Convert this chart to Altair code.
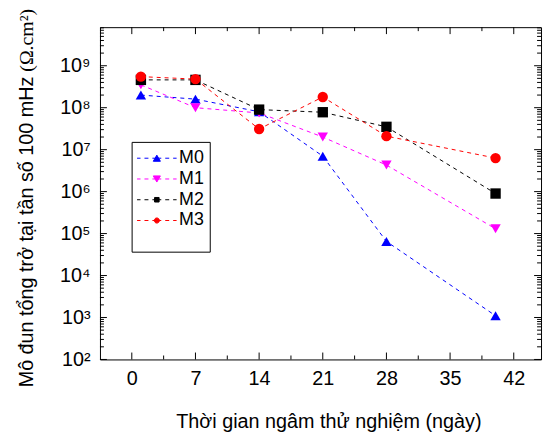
import altair as alt
import pandas as pd

# ---- data ----
days = [1, 7, 14, 21, 28, 40]
series_names = ["M0", "M1", "M2", "M3"]
m0 = [2.0e8, 1.6e8, 8.0e7, 7.0e6, 6.5e4, 1.1e3]
m1 = [3.5e8, 1.0e8, 7.5e7, 2.0e7, 4.3e6, 1.3e5]
m2 = [4.6e8, 4.6e8, 9.0e7, 7.8e7, 3.5e7, 9.0e5]
m3 = [5.5e8, 4.8e8, 3.1e7, 1.8e8, 2.1e7, 6.3e6]
colors = ["#0000FF", "#FF00FF", "#000000", "#FF0000"]
shapes = ["triangle-up", "triangle-down", "square", "circle"]
marker_sizes = [110, 110, 52, 66]
x_ticks = [0, 7, 14, 21, 28, 35, 42]
x_minor = [3.5, 10.5, 17.5, 24.5, 31.5, 38.5]
y_ticks = [1e2, 1e3, 1e4, 1e5, 1e6, 1e7, 1e8, 1e9]
x_domain = [-3.5, 45]
y_domain = [1e2, 8.3e9]
x_title = "Thời gian ngâm thử nghiệm (ngày)"
y_title_main = "Mô đun tổng trở tại tần số 100 mHz"
y_title_unit = "(Ω.cm²)"

W, H = 446, 336
FONT = "Liberation Sans"

values = [m0, m1, m2, m3]
rows = []
for name, vals in zip(series_names, values):
    for d, v in zip(days, vals):
        rows.append({"series": name, "day": d, "z": v})
df = pd.DataFrame(rows)

y_minor = [k * 10 ** e for e in range(2, 10) for k in range(2, 10) if k * 10 ** e <= y_domain[1]]

xs = alt.Scale(domain=x_domain, nice=False, zero=False)
ys = alt.Scale(type="log", domain=y_domain, nice=False)
cscale = alt.Scale(domain=series_names, range=colors)

sup = "['⁰','¹','²','³','⁴','⁵','⁶','⁷','⁸','⁹']"
x_axis = alt.Axis(
    values=x_ticks, ticks=False, domain=False, grid=False,
    labelFont=FONT, labelFontSize=20, labelColor="black",
    labelBaseline="alphabetic", labelPadding=25,
    title=x_title, titleFont=FONT, titleFontSize=20, titleFontWeight="normal",
    titleColor="black", titleX=231, titleY=69, titleBaseline="alphabetic",
    titleAlign="center", orient="bottom",
)
y_axis = alt.Axis(
    values=y_ticks, ticks=False, domain=False, grid=False,
    labelFont=FONT, labelFontSize=20, labelColor="black", labelPadding=10,
    labelBaseline="middle",
    labelExpr="'10' + " + sup + "[round(log(datum.value)/LN10)]",
    title=None, orient="left",
)

lines = alt.Chart(df).mark_line(strokeWidth=1, strokeDash=[4, 4]).encode(
    x=alt.X("day:Q", scale=xs, axis=x_axis),
    y=alt.Y("z:Q", scale=ys, axis=y_axis),
    color=alt.Color("series:N", scale=cscale, legend=None),
)

points = alt.Chart(df).mark_point(filled=True, opacity=1).encode(
    x=alt.X("day:Q", scale=xs, axis=None),
    y=alt.Y("z:Q", scale=ys, axis=None),
    color=alt.Color("series:N", scale=cscale, legend=None),
    shape=alt.Shape("series:N", scale=alt.Scale(domain=series_names, range=shapes), legend=None),
    size=alt.Size("series:O", scale=alt.Scale(domain=series_names, range=marker_sizes), legend=None),
)

# ---- legend symbols: dashed line with a small marker ----
U = 11.0      # px per symbol unit (sqrt(484)/2)
SHIFT = 9.0   # move the drawing right of the nominal symbol centre


def px(x, y=0.0):
    return f"{(x + SHIFT) / U:.3f},{y / U:.3f}"


dash = "".join(f"M{px(a)}L{px(b)}" for a, b in
               [(-20, -16.5), (-12.5, -8.5), (-4.5, 4.5), (8.5, 12.5), (16.5, 20)])
tw, th, sq, cr = 3.6, 3.1, 2.3, 2.6
marker_paths = [
    f"M{px(0, -th)}L{px(tw, th)}L{px(-tw, th)}Z",
    f"M{px(0, th)}L{px(tw, -th)}L{px(-tw, -th)}Z",
    f"M{px(-sq, -sq)}L{px(sq, -sq)}L{px(sq, sq)}L{px(-sq, sq)}Z",
    f"M{px(cr)}A{cr / U:.3f},{cr / U:.3f} 0 1,1 {px(-cr)}A{cr / U:.3f},{cr / U:.3f} 0 1,1 {px(cr)}Z",
]
legend_paths = [dash + m for m in marker_paths]

leg = alt.Legend(
    orient="none", legendX=32, legendY=116, direction="vertical",
    strokeColor="black", fillColor="white", padding=5,
    symbolSize=484, symbolStrokeWidth=1, symbolOpacity=1,
    labelFont=FONT, labelFontSize=18, labelColor="black", labelOffset=20,
    rowPadding=0, title=" ", titleOrient="bottom", titleFontSize=13, titlePadding=4,
)

legend_layer = alt.Chart(df).transform_filter("false").mark_point(filled=True).encode(
    fill=alt.Fill("series:N", scale=alt.Scale(domain=series_names, range=colors), legend=leg),
    stroke=alt.Stroke("series:N", scale=alt.Scale(domain=series_names, range=colors), legend=leg),
    shape=alt.Shape("series:N", scale=alt.Scale(domain=series_names, range=legend_paths), legend=leg),
)


# ---- inward ticks on all four sides ----
def y_rules(vals, length, side):
    x0, x1 = (0, length) if side == "left" else (W - length, W)
    return alt.Chart(pd.DataFrame({"v": vals})).mark_rule(color="black", strokeWidth=1).encode(
        y=alt.Y("v:Q", scale=ys, axis=None), x=alt.value(x0), x2=alt.value(x1))


def x_rules(vals, length, side):
    y0, y1 = (H - length, H) if side == "bottom" else (0, length)
    return alt.Chart(pd.DataFrame({"v": vals})).mark_rule(color="black", strokeWidth=1).encode(
        x=alt.X("v:Q", scale=xs, axis=None), y=alt.value(y0), y2=alt.value(y1))


tick_layers = []
for side in ["left", "right"]:
    tick_layers.append(y_rules(y_ticks, 7, side))
    tick_layers.append(y_rules(y_minor, 4, side))
for side in ["bottom", "top"]:
    tick_layers.append(x_rules(x_ticks, 7, side))
    tick_layers.append(x_rules(x_minor, 4, side))

# ---- y title: sans part + serif unit ----
t_main = alt.Chart(pd.DataFrame({"t": [y_title_main]})).mark_text(
    angle=270, align="right", baseline="alphabetic", font=FONT, fontSize=20, color="black"
).encode(text="t:N", x=alt.value(-68), y=alt.value(50))
t_unit = alt.Chart(pd.DataFrame({"t": [y_title_unit]})).mark_text(
    angle=270, align="left", baseline="alphabetic", font="Liberation Serif", fontSize=20, color="black"
).encode(text="t:N", x=alt.value(-68), y=alt.value(45))

chart = alt.layer(
    lines, points, legend_layer, *tick_layers, t_main, t_unit
).resolve_scale(
    shape="independent", fill="independent", stroke="independent"
).resolve_axis(
    x="independent", y="independent"
).properties(
    width=W, height=H,
    padding={"left": 93, "top": 17, "right": 3, "bottom": 74},
    autosize=alt.AutoSizeParams(type="none"),
).configure_view(stroke="black", strokeWidth=1)

chart.save("out.html", embed_options={"renderer": "svg", "actions": False})
